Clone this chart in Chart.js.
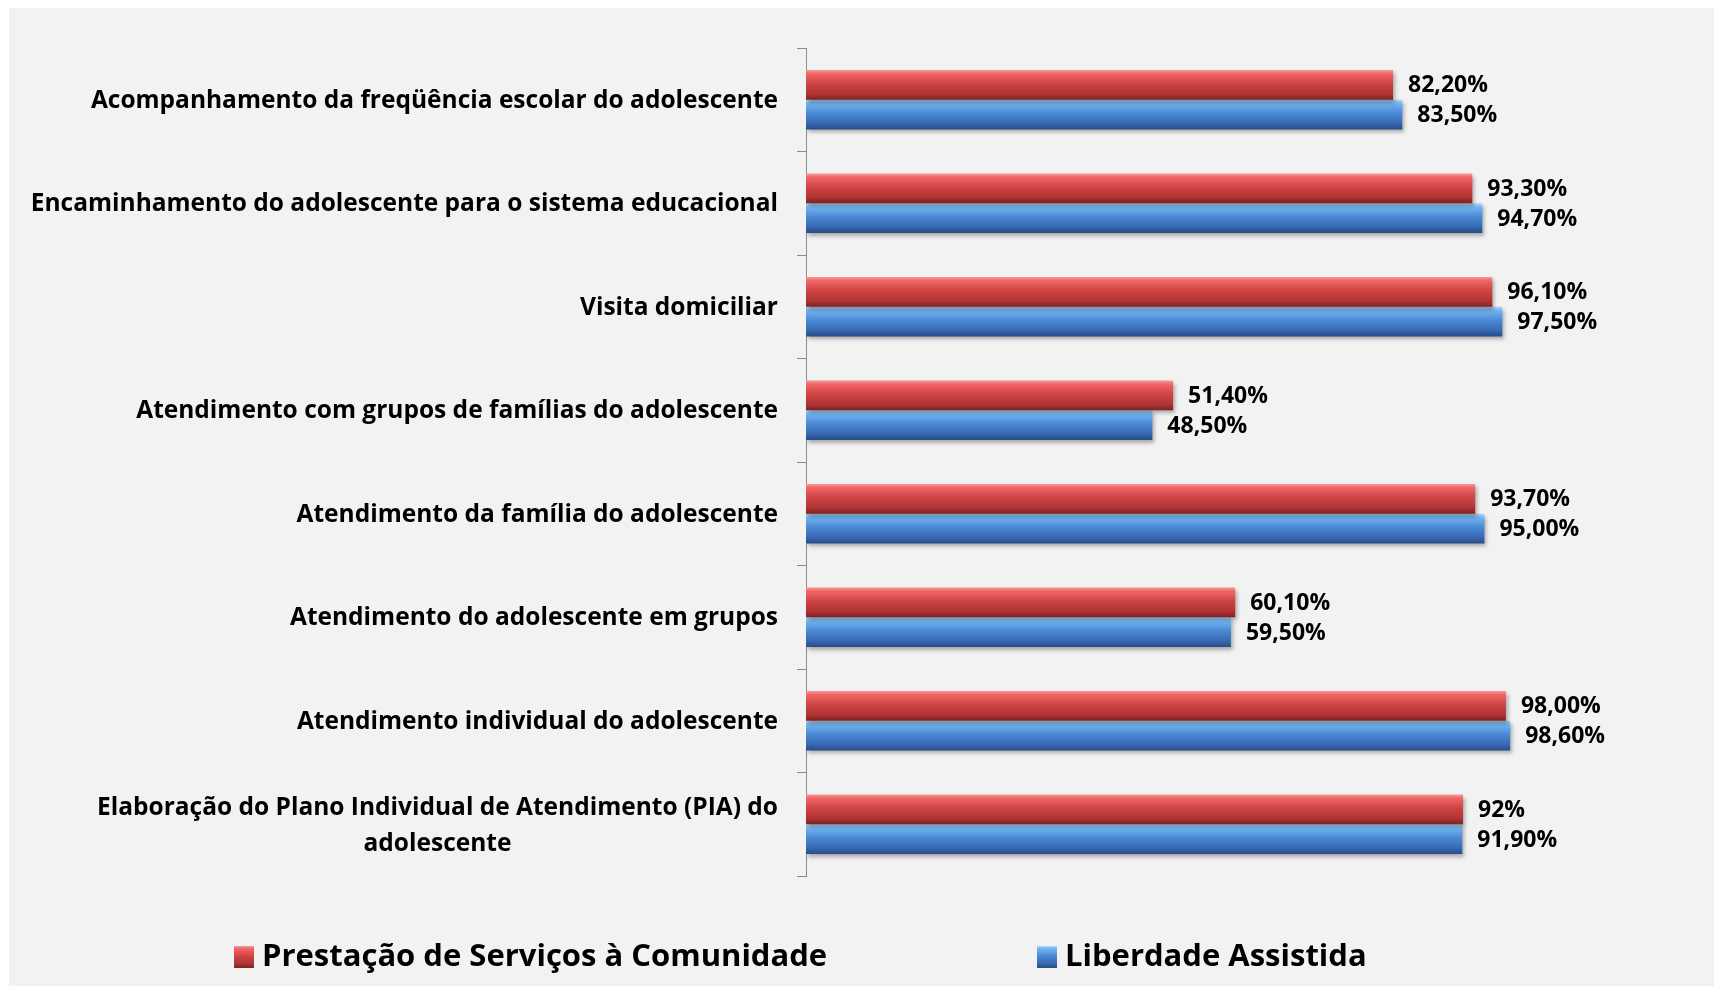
<!DOCTYPE html>
<html><head><meta charset="utf-8">
<script src="https://cdn.jsdelivr.net/npm/chart.js@4.4.1/dist/chart.umd.min.js"></script>
<style>html,body{margin:0;padding:0;background:#fff;overflow:hidden}canvas{display:block}</style>
</head><body>
<canvas id="c" width="1723" height="991"></canvas>
<script>
// ---- DATA ----
const categories = [
  ['Acompanhamento da freqüência escolar do adolescente'],
  ['Encaminhamento do adolescente para o sistema educacional'],
  ['Visita domiciliar'],
  ['Atendimento com grupos de famílias do adolescente'],
  ['Atendimento da família do adolescente'],
  ['Atendimento do adolescente em grupos'],
  ['Atendimento individual do adolescente'],
  ['Elaboração do Plano Individual de Atendimento (PIA) do', 'adolescente']
];
const seriesNames = ['Prestação de Serviços à Comunidade', 'Liberdade Assistida'];
const pscValues = [82.2, 93.3, 96.1, 51.4, 93.7, 60.1, 98.0, 92];
const laValues  = [83.5, 94.7, 97.5, 48.5, 95.0, 59.5, 98.6, 91.9];
const pscLabels = ['82,20%', '93,30%', '96,10%', '51,40%', '93,70%', '60,10%', '98,00%', '92%'];
const laLabels  = ['83,50%', '94,70%', '97,50%', '48,50%', '95,00%', '59,50%', '98,60%', '91,90%'];

// ---- STYLE ----
const FONT = '"Open Sans", Lato, sans-serif';
const CAT_PCT = 0.574;
const redStops  = [[0,'#f39a9a'],[0.12,'#f26666'],[0.45,'#cf4444'],[0.8,'#b03434'],[1,'#7d2222']];
const blueStops = [[0,'#b4d8f8'],[0.12,'#74b6f0'],[0.45,'#4a8ad6'],[0.8,'#3868b2'],[1,'#264c84']];

function makeGrad(g, stops){ stops.forEach(s => g.addColorStop(s[0], s[1])); return g; }

function barGradient(stops, which){
  return (ctx) => {
    const chart = ctx.chart;
    const ys = chart.scales.y;
    if (ctx.type !== 'data' || !ys || ys.top === undefined) return stops[2][1];
    const center = ys.getPixelForValue(ctx.dataIndex);
    const cat = (ys.bottom - ys.top) / categories.length;
    const th = cat * CAT_PCT / 2;
    const top = which === 0 ? center - th : center;
    return makeGrad(chart.ctx.createLinearGradient(0, top, 0, top + th), stops);
  };
}

const bgPlugin = {
  id: 'bg',
  beforeDraw(chart){
    const c = chart.ctx;
    c.save();
    c.fillStyle = '#ffffff'; c.fillRect(0, 0, chart.width, chart.height);
    c.fillStyle = '#f2f2f2'; c.fillRect(9, 8, 1705, 978);
    c.restore();
  }
};

const shadowPlugin = {
  id: 'shadow',
  beforeDatasetsDraw(chart){
    const c = chart.ctx; c.save();
    c.shadowColor = 'rgba(0,0,0,0.30)'; c.shadowBlur = 4; c.shadowOffsetX = 2; c.shadowOffsetY = 3;
  },
  afterDatasetsDraw(chart){ chart.ctx.restore(); }
};

const textPlugin = {
  id: 'texts',
  afterDraw(chart){
    const c = chart.ctx;
    const ys = chart.scales.y;
    c.save();
    c.fillStyle = '#000';
    // category labels
    c.font = 'bold 24.5px ' + FONT;
    c.textBaseline = 'middle';
    const xr = chart.chartArea.left - 28;
    categories.forEach((lines, i) => {
      const y = ys.getPixelForValue(i) + 1;
      if (lines.length === 1) {
        c.textAlign = 'right';
        c.fillText(lines[0], xr, y);
      } else {
        const w = Math.max(...lines.map(l => c.measureText(l).width));
        const lh = 36;
        c.textAlign = 'center';
        lines.forEach((l, k) => c.fillText(l, xr - w / 2, y + 1 + (k - (lines.length - 1) / 2) * lh));
      }
    });
    // value labels
    c.font = 'bold 23px ' + FONT;
    c.textAlign = 'left';
    [pscLabels, laLabels].forEach((labs, di) => {
      const meta = chart.getDatasetMeta(di);
      meta.data.forEach((el, i) => c.fillText(labs[i], el.x + 15, el.y + 1));
    });
    // legend
    c.font = 'bold 31px ' + FONT;
    const ly = 957;
    const items = [[234, redStops], [1037, blueStops]];
    items.forEach((it, di) => {
      const bx = it[0];
      c.fillStyle = makeGrad(c.createLinearGradient(0, ly - 11, 0, ly + 11), it[1]);
      c.fillRect(bx, ly - 11, 20, 22);
      c.fillStyle = '#000';
      c.fillText(chart.data.datasets[di].label, bx + 28, ly);
    });
    c.restore();
  }
};

new Chart(document.getElementById('c'), {
  type: 'bar',
  data: {
    labels: categories,
    datasets: [
      { label: seriesNames[0], data: pscValues, backgroundColor: barGradient(redStops, 0), borderWidth: 0 },
      { label: seriesNames[1], data: laValues, backgroundColor: barGradient(blueStops, 1), borderWidth: 0 }
    ]
  },
  options: {
    indexAxis: 'y',
    responsive: false,
    animation: false,
    devicePixelRatio: 1,
    layout: { padding: { left: 0, top: 48, right: 60, bottom: 115 } },
    datasets: { bar: { categoryPercentage: CAT_PCT, barPercentage: 1 } },
    plugins: { legend: { display: false }, tooltip: { enabled: false }, title: { display: false } },
    scales: {
      x: { display: false, min: 0, max: 120 },
      y: {
        offset: true,
        ticks: { display: false },
        grid: { offset: true, drawOnChartArea: false, drawTicks: true, tickLength: 9, color: '#8c8c8c', lineWidth: 1 },
        border: { display: true, color: '#8c8c8c', width: 1 },
        afterFit(scale){ scale.width = 806; }
      }
    }
  },
  plugins: [bgPlugin, shadowPlugin, textPlugin]
});
</script>
</body></html>
